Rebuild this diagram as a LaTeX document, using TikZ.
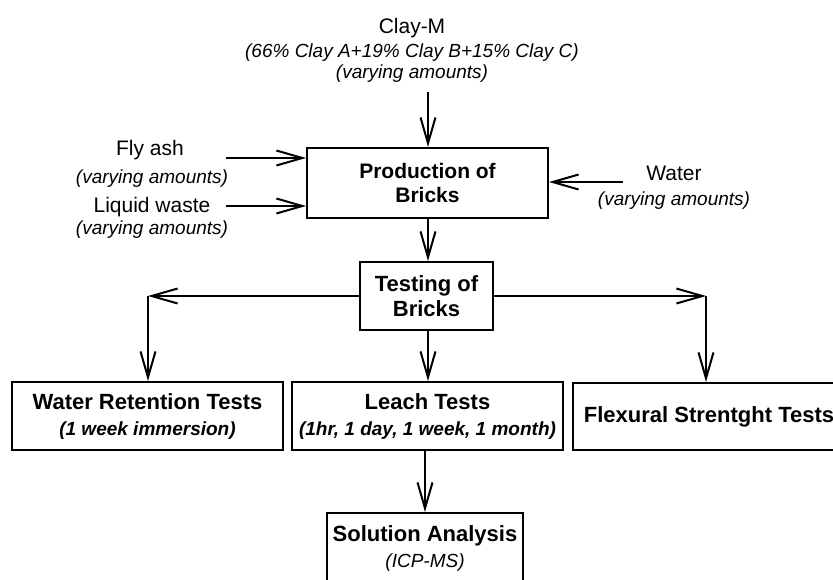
\documentclass[tikz,border=0pt]{standalone}
\usepackage{fontspec}
\setmainfont{Liberation Sans}
\usetikzlibrary{arrows.meta}
\begin{document}
\begin{tikzpicture}[x=1pt,y=-1pt,line width=2pt,
  arr/.style={-{Straight Barb[length=26pt,width=15pt]}},
  box/.style={draw,rectangle,inner sep=0pt,align=center},
  lbl/.style={anchor=base,inner sep=0pt,font=\fontsize{21}{25}\selectfont},
  sub/.style={anchor=base,inner sep=0pt,font=\itshape\fontsize{19}{23}\selectfont},
  boxfont/.style={font=\bfseries\fontsize{22}{26}\selectfont}]
\useasboundingbox (0,0) rectangle (833,579);
\clip (0,0) rectangle (833,579);

% free texts
\node[lbl] (clay1) at (412,33) {Clay-M};
\node[sub] (clay2) at (412,57) {(66\% Clay A+19\% Clay B+15\% Clay C)};
\node[sub] (clay3) at (412,78) {(varying amounts)};
\node[lbl] (fly1) at (150,155) {Fly ash};
\node[sub] (fly2) at (152,183) {(varying amounts)};
\node[lbl] (liq1) at (152,212) {Liquid waste};
\node[sub] (liq2) at (152,234) {(varying amounts)};
\node[lbl] (wat1) at (674,180) {Water};
\node[sub] (wat2) at (674,205) {(varying amounts)};

% boxes
\node[box,minimum width=241pt,minimum height=70pt,font=\bfseries\fontsize{21}{24}\selectfont] (prod) at (427.5,183) {Production of\\Bricks};
\node[box,minimum width=133pt,minimum height=68pt,font=\bfseries\fontsize{22}{25}\selectfont] (test) at (426.5,296) {Testing of\\Bricks};
\node[box,minimum width=271pt,minimum height=68pt,boxfont] (wret) at (147.5,416) {Water Retention Tests\\{\itshape\fontsize{19}{23}\selectfont (1 week immersion)}};
\node[box,minimum width=271pt,minimum height=68pt,boxfont] (leach) at (427.5,416) {Leach Tests\\{\itshape\fontsize{19}{23}\selectfont (1hr, 1 day, 1 week, 1 month)}};
\node[box,minimum width=272pt,minimum height=67pt,boxfont] (flex) at (709,416.5) {\raisebox{-4pt}{Flexural Strentght Tests}};
\node[box,minimum width=196pt,minimum height=70pt,boxfont] (sol) at (425,548) {Solution Analysis\\{\mdseries\itshape\fontsize{19}{23}\selectfont (ICP-MS)}};

% connector end points
\coordinate (clayin) at (428,92);
\coordinate (flyin) at (226,158);
\coordinate (liqin) at (226,206);
\coordinate (watin) at (623,182);
\coordinate (lcorner) at (148,296);
\coordinate (rcorner) at (706,296);

% connectors
\draw[arr] (clayin) -- (clayin |- prod.north);
\draw[arr] (flyin) -- (flyin -| prod.west);
\draw[arr] (liqin) -- (liqin -| prod.west);
\draw[arr] (watin) -- (watin -| prod.east);
\draw[arr] (prod.south -| clayin) -- (clayin |- test.north);
\draw[arr] (test.west |- lcorner) -- (lcorner);
\draw[arr] (lcorner) -- (lcorner |- wret.north);
\draw[arr] (test.east |- rcorner) -- (rcorner);
\draw[arr] (rcorner) -- (rcorner |- flex.north);
\draw[arr] (test.south -| clayin) -- (clayin |- leach.north);
\draw[arr] (sol.north |- leach.south) -- (sol.north);
\end{tikzpicture}
\end{document}
